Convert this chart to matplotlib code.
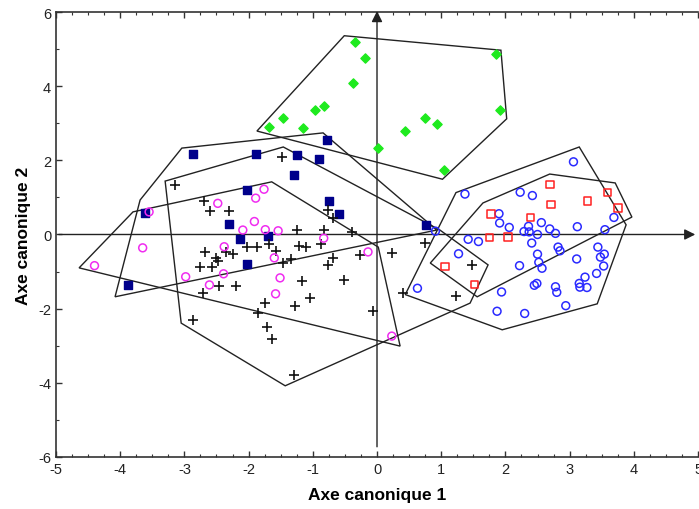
import matplotlib.pyplot as plt
from matplotlib.patches import Polygon
from matplotlib.ticker import MultipleLocator

plt.rcParams['font.family'] = ['Liberation Sans', 'DejaVu Sans']
plt.rcParams['axes.unicode_minus'] = False

# group 1 : losanges verts
green_x = [-0.34, -0.19, -0.38, -0.83, -0.96, -1.47, -1.68, -1.16, 0.02, 0.43, 0.75, 0.93, 1.05, 1.85, 1.92]
green_y = [5.18, 4.77, 4.09, 3.46, 3.37, 3.13, 2.89, 2.88, 2.32, 2.80, 3.14, 2.98, 1.74, 4.87, 3.36]

# group 2 : carres bleu fonce
navy_x = [-2.86, -1.88, -1.25, -0.90, -0.78, -1.29, -2.03, -0.75, -0.59, -3.61, -2.30, -2.13, -1.70, -2.03, -3.88, 0.76]
navy_y = [2.18, 2.16, 2.14, 2.04, 2.55, 1.60, 1.20, 0.89, 0.54, 0.59, 0.27, -0.12, -0.04, -0.80, -1.37, 0.25]

# group 3 : croix noires
black_x = [-3.15, -2.70, -2.60, -2.31, -1.48, -0.77, -0.69, -1.25, -0.82, -0.39,
           -2.68, -2.50, -2.35, -2.24, -2.03, -1.87, -1.69, -1.57, -1.22, -1.11, -0.88, -1.34, -1.46, -0.68, -0.77, -0.26,
           -2.75, -2.57, -2.46, -2.20, -2.71, -2.47,
           -1.17, -0.52, -1.04, -1.27, -1.75, -1.86, -0.07, -2.87, -1.72, -1.64, -1.30,
           0.24, 0.75, 0.41, 1.23, 1.48]
black_y = [1.34, 0.90, 0.64, 0.64, 2.08, 0.66, 0.44, 0.11, 0.11, 0.07,
           -0.48, -0.64, -0.48, -0.53, -0.35, -0.33, -0.26, -0.44, -0.30, -0.33, -0.26, -0.65, -0.76, -0.64, -0.82, -0.55,
           -0.88, -0.87, -1.38, -1.38, -1.58, -0.72,
           -1.25, -1.23, -1.70, -1.93, -1.85, -2.11, -2.05, -2.31, -2.49, -2.82, -3.79,
           -0.51, -0.22, -1.58, -1.65, -0.81]

# group 4 : cercles magenta
pink_x = [-3.55, -2.48, -2.09, -2.38, -3.65, -4.40, -2.39, -2.98, -2.61, -1.76,
          -1.89, -1.91, -1.74, -1.54, -0.83, -1.60, -1.51, -1.58, -0.14, 0.23]
pink_y = [0.61, 0.84, 0.12, -0.33, -0.36, -0.84, -1.06, -1.14, -1.36, 1.22,
          0.98, 0.35, 0.13, 0.10, -0.10, -0.63, -1.17, -1.60, -0.47, -2.74]

# group 5 : cercles bleus
blue_x = [3.06, 1.37, 2.23, 2.42, 1.90, 1.91, 2.06, 2.36, 2.29, 2.37, 2.50, 2.56, 2.69, 2.78, 3.12, 3.69,
          3.55, 1.42, 1.58, 2.41, 1.27, 2.50, 2.82, 2.85, 3.11, 3.44, 3.54, 3.48, 3.53, 2.22, 2.52, 2.57,
          3.42, 3.24, 1.94, 2.45, 2.49, 2.78, 2.80, 3.15, 3.16, 3.27, 2.94, 1.87, 2.30, 0.91, 0.63]
blue_y = [1.96, 1.09, 1.14, 1.05, 0.56, 0.31, 0.19, 0.22, 0.08, 0.07, 0.00, 0.32, 0.15, 0.03, 0.21, 0.46,
          0.13, -0.13, -0.19, -0.23, -0.52, -0.53, -0.34, -0.44, -0.66, -0.34, -0.53, -0.61, -0.85, -0.84, -0.75, -0.91,
          -1.05, -1.15, -1.55, -1.37, -1.32, -1.41, -1.56, -1.32, -1.42, -1.43, -1.92, -2.07, -2.13, 0.09, -1.45]

# group 6 : carres rouges
red_x = [1.06, 1.52, 1.78, 1.75, 2.04, 2.39, 2.71, 2.69, 3.28, 3.59, 3.75]
red_y = [-0.86, -1.35, 0.56, -0.08, -0.07, 0.46, 0.81, 1.35, 0.90, 1.13, 0.72]

# enveloppes des groupes
green_hull = [(-0.51, 5.36), (1.93, 4.97), (2.02, 3.12), (1.02, 1.49), (-1.87, 2.79)]
navy_hull = [(-4.08, -1.68), (-3.69, 0.93), (-3.04, 2.33), (-0.84, 2.74), (0.93, 0.12)]
pink_hull = [(-4.64, -0.90), (-3.80, 0.61), (-1.64, 1.42), (0.02, -0.34), (0.36, -3.01)]
black_hull = [(-3.30, 1.44), (-1.46, 2.36), (0.98, 0.12), (1.73, -0.82), (1.45, -1.85), (-1.43, -4.08), (-3.05, -2.39)]
red_hull = [(0.83, -0.77), (1.65, 0.85), (2.69, 1.63), (3.71, 1.39), (3.97, 0.47), (1.56, -1.68)]
blue_hull = [(0.44, -1.62), (1.23, 1.13), (3.15, 2.36), (3.88, 0.26), (3.43, -1.87), (1.95, -2.57)]

fig = plt.figure(figsize=(6.99, 5.10), dpi=100)
ax = fig.add_axes([0.0801, 0.102, 0.9185, 0.8725])

for hull in [green_hull, navy_hull, pink_hull, black_hull, red_hull, blue_hull]:
    ax.add_patch(Polygon(hull, closed=True, fill=False, ec='#222222', lw=1.0, zorder=2))

# axes canoniques (fleches)
ax.annotate('', xy=(5.0, 0), xytext=(-5, 0),
            arrowprops=dict(arrowstyle='-|>', color='#222222', lw=1.0, mutation_scale=16), annotation_clip=False)
ax.annotate('', xy=(0, 6.1), xytext=(0, -5.8),
            arrowprops=dict(arrowstyle='-|>', color='#222222', lw=1.0, mutation_scale=16), annotation_clip=False)

ax.scatter(green_x, green_y, marker='D', s=22, color='#1eea1e', zorder=3)
ax.scatter(navy_x, navy_y, marker='s', s=32, color='#00008b', zorder=3)
ax.scatter(black_x, black_y, marker='+', s=48, color='#111111', linewidths=1.2, zorder=3)
ax.scatter(pink_x, pink_y, marker='o', s=32, facecolors='none', edgecolors='#f02cf0', linewidths=1.1, zorder=3)
ax.scatter(blue_x, blue_y, marker='o', s=32, facecolors='none', edgecolors='#2a2aff', linewidths=1.1, zorder=3)
ax.scatter(red_x, red_y, marker='s', s=30, facecolors='none', edgecolors='#ff2020', linewidths=1.1, zorder=3)

ax.set_xlim(-5, 5)
ax.set_ylim(-6, 6)
ax.set_xticks(range(-5, 6))
ax.set_yticks(range(-6, 7, 2))
ax.xaxis.set_minor_locator(MultipleLocator(0.25))
ax.yaxis.set_minor_locator(MultipleLocator(1))
ax.tick_params(which='both', direction='in', top=True, right=False, colors='#333333', labelcolor='#222222', labelsize=10.5)
ax.tick_params(which='major', length=4, width=1.0)
ax.tick_params(which='minor', length=2.5, width=0.8)
ax.spines['right'].set_visible(False)
for s in ['left', 'bottom', 'top']:
    ax.spines[s].set_color('#333333')
    ax.spines[s].set_linewidth(1.2)

ax.set_xlabel('Axe canonique 1', fontsize=12.5, fontweight='bold', labelpad=8)
ax.set_ylabel('Axe canonique 2', fontsize=12.5, fontweight='bold', labelpad=5)

plt.savefig('out.png', dpi=100)
